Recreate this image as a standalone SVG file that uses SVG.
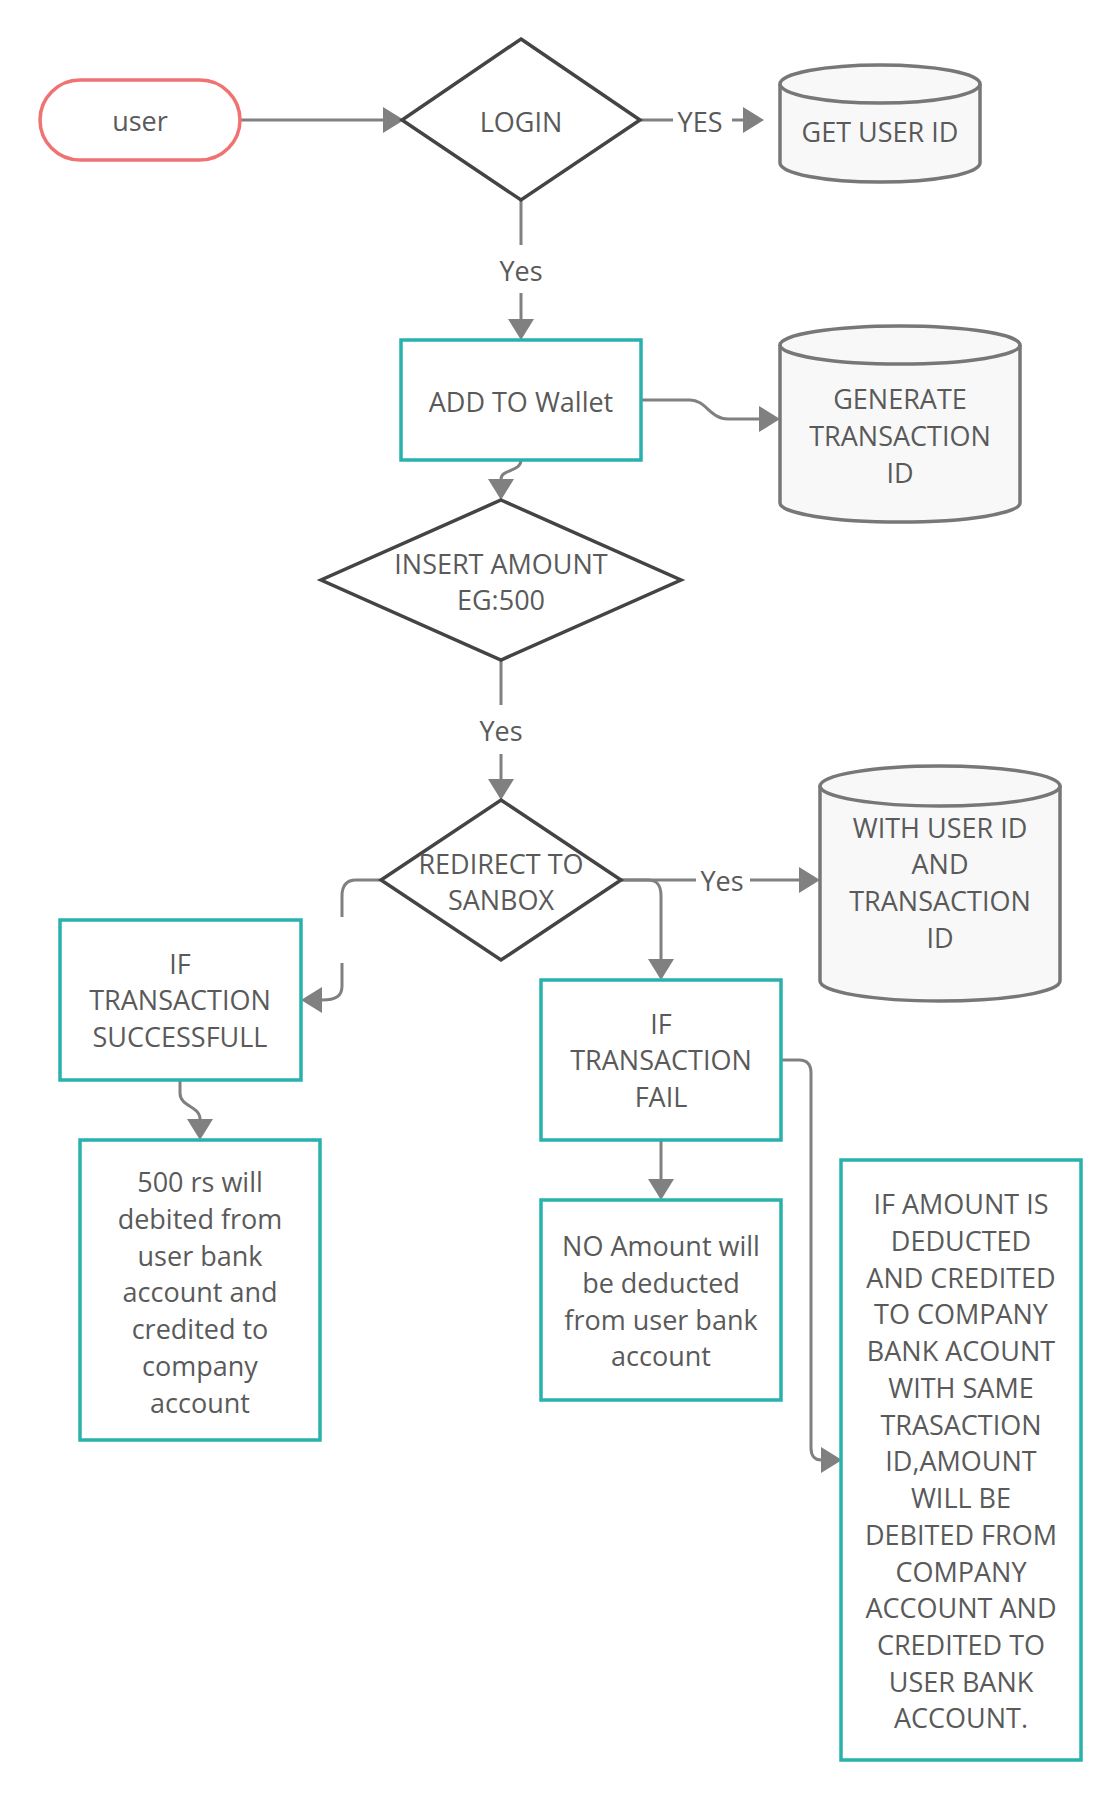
<svg xmlns="http://www.w3.org/2000/svg" width="1120" height="1800" viewBox="0 0 1120 1800">
  <defs>
    <style>
      .txt { font-family: "Open Sans", "Noto Sans", "Liberation Sans", sans-serif; font-size: 27px; fill: #5a5a5a; text-anchor: middle; }
      .box { fill: #ffffff; stroke: #28b1ad; stroke-width: 3.5; }
      .dia { fill: #ffffff; stroke: #444444; stroke-width: 3.5; stroke-linejoin: miter; }
      .cyl { fill: #f8f8f8; stroke: #777777; stroke-width: 3.5; }
      .cyl-rim { fill: none; stroke: #777777; stroke-width: 3.5; }
      .term { fill: #ffffff; stroke: #f07272; stroke-width: 3.5; }
      .wire { fill: none; stroke: #808080; stroke-width: 3; }
      .wire-end { fill: none; stroke: #808080; stroke-width: 3; marker-end: url(#head); }
    </style>
    <marker id="head" markerUnits="userSpaceOnUse" markerWidth="24" markerHeight="28" refX="0" refY="13" orient="auto">
      <path d="M0,0 L21,13 L0,26 Z" fill="#808080"/>
    </marker>
  </defs>

  <rect width="1120" height="1800" fill="#ffffff"/>

  <!-- connectors -->
  <g id="connectors">
    <!-- user -> LOGIN -->
    <path class="wire-end" d="M240,120 L383,120"/>
    <!-- LOGIN -> GET USER ID -->
    <path class="wire" d="M640,120 L673,120"/>
    <path class="wire-end" d="M732,120 L743,120"/>
    <text class="txt" x="700" y="132">YES</text>
    <!-- LOGIN -> ADD TO Wallet -->
    <path class="wire" d="M521,200 L521,245"/>
    <path class="wire-end" d="M521,293 L521,319"/>
    <text class="txt" x="521" y="281">Yes</text>
    <!-- ADD TO Wallet -> GENERATE TRANSACTION ID -->
    <path class="wire-end" d="M641,400 L690,400 C706,400 710,419 728,419 L759,419"/>
    <!-- ADD TO Wallet -> INSERT AMOUNT -->
    <path class="wire-end" d="M521,460 C521,472 501,469 501,479"/>
    <!-- INSERT AMOUNT -> REDIRECT -->
    <path class="wire" d="M501,660 L501,705"/>
    <path class="wire-end" d="M501,754 L501,779"/>
    <text class="txt" x="501" y="741">Yes</text>
    <!-- REDIRECT -> WITH USER ID -->
    <path class="wire" d="M621,880 L696,880"/>
    <path class="wire-end" d="M750,880 L799,880"/>
    <text class="txt" x="722" y="891">Yes</text>
    <!-- REDIRECT -> IF TRANSACTION FAIL -->
    <path class="wire-end" d="M621,880 L648,880 C658,880 661,886 661,896 L661,959"/>
    <!-- REDIRECT -> IF TRANSACTION SUCCESSFULL -->
    <path class="wire" d="M381,880 L356,880 C346,880 342,886 342,896 L342,917"/>
    <path class="wire-end" d="M342,963 L342,986 C342,996 336,1000 322,1000"/>
    <!-- SUCCESSFULL -> 500 rs -->
    <path class="wire-end" d="M180,1080 L180,1093 C180,1107 200,1106 200,1119"/>
    <!-- FAIL -> NO Amount -->
    <path class="wire-end" d="M661,1140 L661,1179"/>
    <!-- FAIL -> IF AMOUNT IS DEDUCTED -->
    <path class="wire-end" d="M781,1060 L799,1060 C807,1060 811,1064 811,1073 L811,1448 C811,1456 815,1460 821,1460"/>
  </g>

  <!-- user -->
  <g id="user">
    <rect class="term" x="40" y="80" width="200" height="80" rx="40" ry="40"/>
    <text class="txt" x="140" y="131">user</text>
  </g>

  <!-- LOGIN -->
  <g id="login">
    <polygon class="dia" points="521,39 640,120 521,200 402,120"/>
    <text class="txt" x="521" y="132">LOGIN</text>
  </g>

  <!-- GET USER ID -->
  <g id="get-user-id">
    <path class="cyl" d="M780,84 A100,19 0 0 1 980,84 L980,163 A100,19 0 0 1 780,163 Z"/>
    <path class="cyl-rim" d="M780,84 A100,19 0 0 0 980,84"/>
    <text class="txt" x="880" y="142">GET USER ID</text>
  </g>

  <!-- ADD TO Wallet -->
  <g id="add-to-wallet">
    <rect class="box" x="401" y="340" width="240" height="120"/>
    <text class="txt" x="521" y="412">ADD TO Wallet</text>
  </g>

  <!-- GENERATE TRANSACTION ID -->
  <g id="generate-transaction-id">
    <path class="cyl" d="M780,345 A120,19 0 0 1 1020,345 L1020,503 A120,19 0 0 1 780,503 Z"/>
    <path class="cyl-rim" d="M780,345 A120,19 0 0 0 1020,345"/>
    <text class="txt" x="900" y="409">GENERATE</text>
    <text class="txt" x="900" y="446">TRANSACTION</text>
    <text class="txt" x="900" y="483">ID</text>
  </g>

  <!-- INSERT AMOUNT -->
  <g id="insert-amount">
    <polygon class="dia" points="501,500 681,580 501,660 321,580"/>
    <text class="txt" x="501" y="574">INSERT AMOUNT</text>
    <text class="txt" x="501" y="610">EG:500</text>
  </g>

  <!-- REDIRECT TO SANBOX -->
  <g id="redirect">
    <polygon class="dia" points="501,800 621,880 501,960 381,880"/>
    <text class="txt" x="501" y="874">REDIRECT TO</text>
    <text class="txt" x="501" y="910">SANBOX</text>
  </g>

  <!-- WITH USER ID AND TRANSACTION ID -->
  <g id="with-user-id">
    <path class="cyl" d="M820,786 A120,20 0 0 1 1060,786 L1060,981 A120,20 0 0 1 820,981 Z"/>
    <path class="cyl-rim" d="M820,786 A120,20 0 0 0 1060,786"/>
    <text class="txt" x="940" y="838">WITH USER ID</text>
    <text class="txt" x="940" y="874">AND</text>
    <text class="txt" x="940" y="911">TRANSACTION</text>
    <text class="txt" x="940" y="948">ID</text>
  </g>

  <!-- IF TRANSACTION SUCCESSFULL -->
  <g id="if-successfull">
    <rect class="box" x="60" y="920" width="241" height="160"/>
    <text class="txt" x="180" y="974">IF</text>
    <text class="txt" x="180" y="1010">TRANSACTION</text>
    <text class="txt" x="180" y="1047">SUCCESSFULL</text>
  </g>

  <!-- IF TRANSACTION FAIL -->
  <g id="if-fail">
    <rect class="box" x="541" y="980" width="240" height="160"/>
    <text class="txt" x="661" y="1034">IF</text>
    <text class="txt" x="661" y="1070">TRANSACTION</text>
    <text class="txt" x="661" y="1107">FAIL</text>
  </g>

  <!-- 500 rs debited -->
  <g id="debit-user">
    <rect class="box" x="80" y="1140" width="240" height="300"/>
    <text class="txt" x="200" y="1192">500 rs will</text>
    <text class="txt" x="200" y="1229">debited from</text>
    <text class="txt" x="200" y="1266">user bank</text>
    <text class="txt" x="200" y="1302">account and</text>
    <text class="txt" x="200" y="1339">credited to</text>
    <text class="txt" x="200" y="1376">company</text>
    <text class="txt" x="200" y="1413">account</text>
  </g>

  <!-- NO Amount deducted -->
  <g id="no-deduction">
    <rect class="box" x="541" y="1200" width="240" height="200"/>
    <text class="txt" x="661" y="1256">NO Amount will</text>
    <text class="txt" x="661" y="1293">be deducted</text>
    <text class="txt" x="661" y="1330">from user bank</text>
    <text class="txt" x="661" y="1366">account</text>
  </g>

  <!-- refund rule -->
  <g id="refund">
    <rect class="box" x="841" y="1160" width="240" height="600"/>
    <text class="txt" x="961" y="1214">IF AMOUNT IS</text>
    <text class="txt" x="961" y="1251">DEDUCTED</text>
    <text class="txt" x="961" y="1288">AND CREDITED</text>
    <text class="txt" x="961" y="1324">TO COMPANY</text>
    <text class="txt" x="961" y="1361">BANK ACOUNT</text>
    <text class="txt" x="961" y="1398">WITH SAME</text>
    <text class="txt" x="961" y="1435">TRASACTION</text>
    <text class="txt" x="961" y="1471">ID,AMOUNT</text>
    <text class="txt" x="961" y="1508">WILL BE</text>
    <text class="txt" x="961" y="1545">DEBITED FROM</text>
    <text class="txt" x="961" y="1582">COMPANY</text>
    <text class="txt" x="961" y="1618">ACCOUNT AND</text>
    <text class="txt" x="961" y="1655">CREDITED TO</text>
    <text class="txt" x="961" y="1692">USER BANK</text>
    <text class="txt" x="961" y="1728">ACCOUNT.</text>
  </g>
</svg>
